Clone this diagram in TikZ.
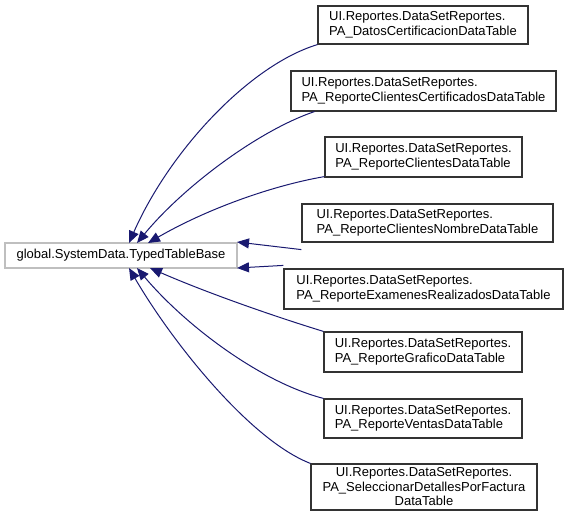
\documentclass[tikz,border=0pt]{standalone}
\usepackage{fontspec}
\setmainfont{Liberation Sans}
\usetikzlibrary{arrows.meta}
\definecolor{edgeblue}{HTML}{191970}
\definecolor{basegray}{HTML}{BFBFBF}
\tikzset{
  cls/.style={draw=black!80, line width=1.2pt, fill=white, inner sep=0pt, align=left,
    font=\fontsize{13}{14.5}\selectfont},
  basecls/.style={draw=basegray, line width=1.2pt, fill=white, inner sep=0pt,
    font=\fontsize{13}{14.5}\selectfont},
  inh/.style={draw=edgeblue, line width=1pt, -{Triangle[length=12pt,width=10pt]}}
}
\begin{document}
\begin{tikzpicture}[x=1pt,y=-1pt]
\useasboundingbox (0,0) rectangle (567,525);
\node[basecls, minimum width=232pt, minimum height=25pt] (b) at (121,255.5) {global.SystemData.TypedTableBase};
\node[cls, minimum width=210pt, minimum height=38pt] (n1) at (423,25) {UI.Reportes.DataSetReportes.\\PA\_DatosCertificacionDataTable};
\node[cls, minimum width=265pt, minimum height=40pt] (n2) at (423.5,91) {UI.Reportes.DataSetReportes.\\PA\_ReporteClientesCertificadosDataTable};
\node[cls, minimum width=197pt, minimum height=40pt] (n3) at (423.5,157) {UI.Reportes.DataSetReportes.\\PA\_ReporteClientesDataTable};
\node[cls, minimum width=251pt, minimum height=38pt] (n4) at (427.5,223) {UI.Reportes.DataSetReportes.\\PA\_ReporteClientesNombreDataTable};
\node[cls, minimum width=279pt, minimum height=40pt] (n5) at (423.5,289) {UI.Reportes.DataSetReportes.\\PA\_ReporteExamenesRealizadosDataTable};
\node[cls, minimum width=198pt, minimum height=40pt] (n6) at (423,352) {UI.Reportes.DataSetReportes.\\PA\_ReporteGraficoDataTable};
\node[cls, minimum width=198pt, minimum height=39pt] (n7) at (423,418.5) {UI.Reportes.DataSetReportes.\\PA\_ReporteVentasDataTable};
\node[cls, align=center, minimum width=226pt, minimum height=46pt] (n8) at (424,487) {UI.Reportes.DataSetReportes.\\PA\_SeleccionarDetallesPorFactura\\DataTable};

\coordinate (t1) at (129,243);
\coordinate (t2) at (137,243);
\coordinate (t3) at (148,243);
\coordinate (t4) at (237,242);
\coordinate (t5) at (237,268);
\coordinate (t6) at (150,268);
\coordinate (t7) at (137,268);
\coordinate (t8) at (129,268);

\draw[inh] (n1.south west) .. controls (250,65) and (170,150) .. (t1);
\draw[inh] ([xshift=24pt]n2.south west) .. controls (260,130) and (185,185) .. (t2);
\draw[inh] ([yshift=1pt]n3.south west) .. controls (270,186) and (205,210) .. (t3);
\draw[inh] ([yshift=-7pt]n4.south west) -- (t4);
\draw[inh] ([yshift=3pt]n5.north west) -- (t5);
\draw[inh] (n6.north west) .. controls (270,315) and (205,292) .. (t6);
\draw[inh] (n7.north west) .. controls (260,382) and (185,325) .. (t7);
\draw[inh] (n8.north west) .. controls (250,440) and (172,342) .. (t8);
\end{tikzpicture}
\end{document}
